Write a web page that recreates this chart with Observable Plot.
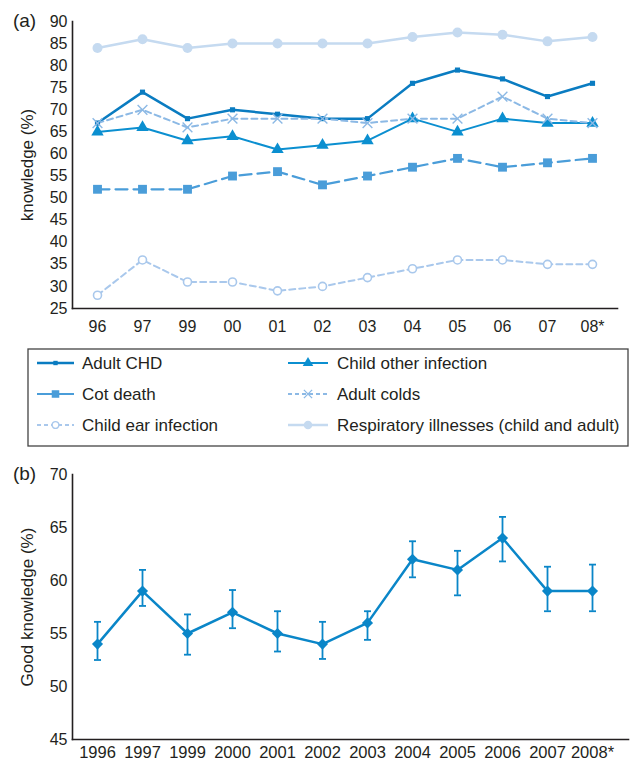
<!DOCTYPE html>
<html>
<head>
<meta charset="utf-8">
<script src="https://cdn.jsdelivr.net/npm/d3@7"></script>
<script src="https://cdn.jsdelivr.net/npm/@observablehq/plot@0.6"></script>
<style>
  html, body { margin: 0; padding: 0; background: #fff; }
  #wrap { position: relative; width: 630px; height: 763px; font-family: "Liberation Sans", Arial, Helvetica, sans-serif; color: #231f20; }
  #wrap > * { position: absolute; left: 0; }
</style>
</head>
<body>
<div id="wrap"></div>
<script>
// ---------- Data: panel (a) ----------
const yearsA = ["96", "97", "99", "00", "01", "02", "03", "04", "05", "06", "07", "08*"];
const seriesNames = ["Adult CHD", "Child other infection", "Cot death", "Adult colds", "Child ear infection", "Respiratory illnesses (child and adult)"];
const adultCHD          = [67, 74, 68, 70, 69, 68, 68, 76, 79, 77, 73, 76];
const childOther        = [65, 66, 63, 64, 61, 62, 63, 68, 65, 68, 67, 67];
const cotDeath          = [52, 52, 52, 55, 56, 53, 55, 57, 59, 57, 58, 59];
const adultColds        = [67, 70, 66, 68, 68, 68, 67, 68, 68, 73, 68, 67];
const childEar          = [28, 36, 31, 31, 29, 30, 32, 34, 36, 36, 35, 35];
const respiratory       = [84, 86, 84, 85, 85, 85, 85, 86.5, 87.5, 87, 85.5, 86.5];
const yTicksA = [25, 30, 35, 40, 45, 50, 55, 60, 65, 70, 75, 80, 85, 90];

// ---------- Data: panel (b) ----------
const yearsB = ["1996", "1997", "1999", "2000", "2001", "2002", "2003", "2004", "2005", "2006", "2007", "2008*"];
const goodKnowledge = [54, 59, 55, 57, 55, 54, 56, 62, 61, 64, 59, 59];
const ciLow         = [52.5, 57.6, 53, 55.5, 53.3, 52.6, 54.4, 60.3, 58.6, 61.8, 57.1, 57.1];
const ciHigh        = [56.1, 61, 56.8, 59.1, 57.1, 56.1, 57.1, 63.7, 62.8, 66, 61.3, 61.5];
const yTicksB = [45, 50, 55, 60, 65, 70];

// ---------- Styles ----------
const ink = "#231f20";
const font = "Liberation Sans, Arial, Helvetica, sans-serif";
const styleOf = {
  "Adult CHD": {color: "#0a7cc1", width: 2.5, dash: null, legendDash: null, symbol: "square", r: 2.9, filled: true},
  "Child other infection": {color: "#0b8fd0", width: 2, dash: null, legendDash: null, symbol: "triangle", r: 4.6, filled: true},
  "Cot death": {color: "#4a9dd9", width: 2.2, dash: "12,6", legendDash: null, symbol: "square", r: 5, filled: true},
  "Adult colds": {color: "#8cb9e5", width: 2, dash: "6,4", legendDash: "4,3", symbol: "times", r: 4.5, filled: false},
  "Child ear infection": {color: "#a9c8ec", width: 2, dash: "6,4", legendDash: "4,3", symbol: "circle", r: 4, filled: false},
  "Respiratory illnesses (child and adult)": {color: "#c5daf0", width: 2.5, dash: null, legendDash: null, symbol: "circle", r: 5, filled: true}
};
const valuesOf = {
  "Adult CHD": adultCHD,
  "Child other infection": childOther,
  "Cot death": cotDeath,
  "Adult colds": adultColds,
  "Child ear infection": childEar,
  "Respiratory illnesses (child and adult)": respiratory
};
const drawOrder = ["Child ear infection", "Cot death", "Child other infection", "Adult CHD", "Adult colds", "Respiratory illnesses (child and adult)"];

const wrap = document.getElementById("wrap");

// ---------- Panel (a) ----------
const marksA = [];
for (const name of drawOrder) {
  const s = styleOf[name];
  const rows = yearsA.map((yr, i) => ({year: yr, value: valuesOf[name][i]}));
  marksA.push(Plot.line(rows, {x: "year", y: "value", stroke: s.color, strokeWidth: s.width, strokeDasharray: s.dash || undefined}));
}
for (const name of drawOrder) {
  const s = styleOf[name];
  const rows = yearsA.map((yr, i) => ({year: yr, value: valuesOf[name][i]}));
  if (s.symbol === "times") {
    marksA.push(Plot.dot(rows, {x: "year", y: "value", symbol: "times", r: s.r, stroke: s.color, strokeWidth: 1.4, fill: "none"}));
  } else if (!s.filled) {
    marksA.push(Plot.dot(rows, {x: "year", y: "value", symbol: s.symbol, r: s.r, stroke: s.color, strokeWidth: 1.6, fill: "white"}));
  } else {
    marksA.push(Plot.dot(rows, {x: "year", y: "value", symbol: s.symbol, r: s.r, fill: s.color, stroke: "none"}));
  }
}

const plotA = Plot.plot({
  width: 630,
  height: 345,
  marginLeft: 72,
  marginRight: 13,
  marginTop: 21,
  marginBottom: 37,
  style: {fontFamily: font, color: ink, background: "transparent", overflow: "visible"},
  x: {type: "point", domain: yearsA, padding: 0.5},
  y: {domain: [25, 90]},
  marks: [
    Plot.axisY({ticks: yTicksA, tickSize: 0, tickPadding: 5, fontSize: 16, label: null, tickFormat: d => String(d)}),
    Plot.axisX({tickSize: 0, tickPadding: 12, fontSize: 16, label: null}),
    Plot.frame({anchor: "left", stroke: ink, strokeWidth: 1.6}),
    Plot.frame({anchor: "bottom", stroke: ink, strokeWidth: 1.6}),
    Plot.text(["knowledge (%)"], {frameAnchor: "left", dx: -45, rotate: -90, fontSize: 17, textAnchor: "middle", lineAnchor: "middle", fill: ink}),
    Plot.text(["(a)"], {frameAnchor: "top-left", dx: -48, dy: -1, fontSize: 19, textAnchor: "middle", lineAnchor: "middle", fill: ink}),
    ...marksA
  ]
});
plotA.style.top = "0px";
wrap.appendChild(plotA);

// ---------- Legend ----------
const legendW = 600, legendH = 97;
const legend = d3.create("svg")
  .attr("width", legendW + 2)
  .attr("height", legendH + 2)
  .style("left", "27px")
  .style("top", "348px")
  .style("font-family", font);
legend.append("rect")
  .attr("x", 1).attr("y", 1).attr("width", legendW).attr("height", legendH)
  .attr("fill", "white").attr("stroke", "#444").attr("stroke-width", 1.3);
const legendLayout = [
  ["Adult CHD", 0, 0], ["Child other infection", 1, 0],
  ["Cot death", 0, 1], ["Adult colds", 1, 1],
  ["Child ear infection", 0, 2], ["Respiratory illnesses (child and adult)", 1, 2]
];
const symbolTypes = {square: d3.symbolSquare, triangle: d3.symbolTriangle, times: d3.symbolTimes, circle: d3.symbolCircle};
const colX = [{x1: 10, x2: 47, tx: 55}, {x1: 261, x2: 301, tx: 310}];
const rowY = [15, 46, 77];
for (const [name, c, r] of legendLayout) {
  const s = styleOf[name];
  const g = legend.append("g").attr("transform", `translate(0,${rowY[r]})`);
  g.append("line")
    .attr("x1", colX[c].x1).attr("x2", colX[c].x2).attr("y1", 0).attr("y2", 0)
    .attr("stroke", s.color).attr("stroke-width", s.width)
    .attr("stroke-dasharray", s.legendDash);
  const rr = s.r * 0.85;
  const path = d3.symbol(symbolTypes[s.symbol], Math.PI * rr * rr)();
  const cx = (colX[c].x1 + colX[c].x2) / 2;
  const p = g.append("path").attr("d", path).attr("transform", `translate(${cx},0)`);
  if (s.symbol === "times") p.attr("fill", "none").attr("stroke", s.color).attr("stroke-width", 1.3);
  else if (!s.filled) p.attr("fill", "white").attr("stroke", s.color).attr("stroke-width", 1.4);
  else p.attr("fill", s.color);
  g.append("text")
    .attr("x", colX[c].tx).attr("y", 0).attr("dy", "0.35em")
    .attr("font-size", 17).attr("fill", ink)
    .text(name);
}
wrap.appendChild(legend.node());

// ---------- Panel (b) ----------
const colorB = "#0a86c8";
const capSymbol = {draw(context) { context.moveTo(-3.5, 0); context.lineTo(3.5, 0); }};
const rowsB = yearsB.map((yr, i) => ({year: yr, value: goodKnowledge[i], lo: ciLow[i], hi: ciHigh[i]}));
const plotB = Plot.plot({
  width: 630,
  height: 315,
  marginLeft: 72,
  marginRight: 2,
  marginTop: 26,
  marginBottom: 24,
  style: {fontFamily: font, color: ink, background: "transparent", overflow: "visible"},
  x: {type: "point", domain: yearsB, padding: 0.5, insetRight: 11},
  y: {domain: [45, 70]},
  marks: [
    Plot.axisY({ticks: yTicksB, tickSize: 0, tickPadding: 5, fontSize: 16, label: null}),
    Plot.axisX({tickSize: 0, tickPadding: 7, fontSize: 16.5, label: null}),
    Plot.frame({anchor: "left", stroke: ink, strokeWidth: 1.6}),
    Plot.frame({anchor: "bottom", stroke: ink, strokeWidth: 1.6}),
    Plot.text(["Good knowledge (%)"], {frameAnchor: "left", dx: -45, rotate: -90, fontSize: 17, textAnchor: "middle", lineAnchor: "middle", fill: ink}),
    Plot.text(["(b)"], {frameAnchor: "top-left", dx: -48, dy: -1, fontSize: 19, textAnchor: "middle", lineAnchor: "middle", fill: ink}),
    Plot.ruleX(rowsB, {x: "year", y1: "lo", y2: "hi", stroke: colorB, strokeWidth: 1.8}),
    Plot.dot(rowsB, {x: "year", y: "lo", symbol: capSymbol, stroke: colorB, fill: "none", strokeWidth: 1.8}),
    Plot.dot(rowsB, {x: "year", y: "hi", symbol: capSymbol, stroke: colorB, fill: "none", strokeWidth: 1.8}),
    Plot.line(rowsB, {x: "year", y: "value", stroke: colorB, strokeWidth: 2.5}),
    Plot.dot(rowsB, {x: "year", y: "value", symbol: "diamond2", r: 5, fill: colorB, stroke: "none"})
  ]
});
plotB.style.top = "448px";
wrap.appendChild(plotB);
</script>
</body>
</html>
